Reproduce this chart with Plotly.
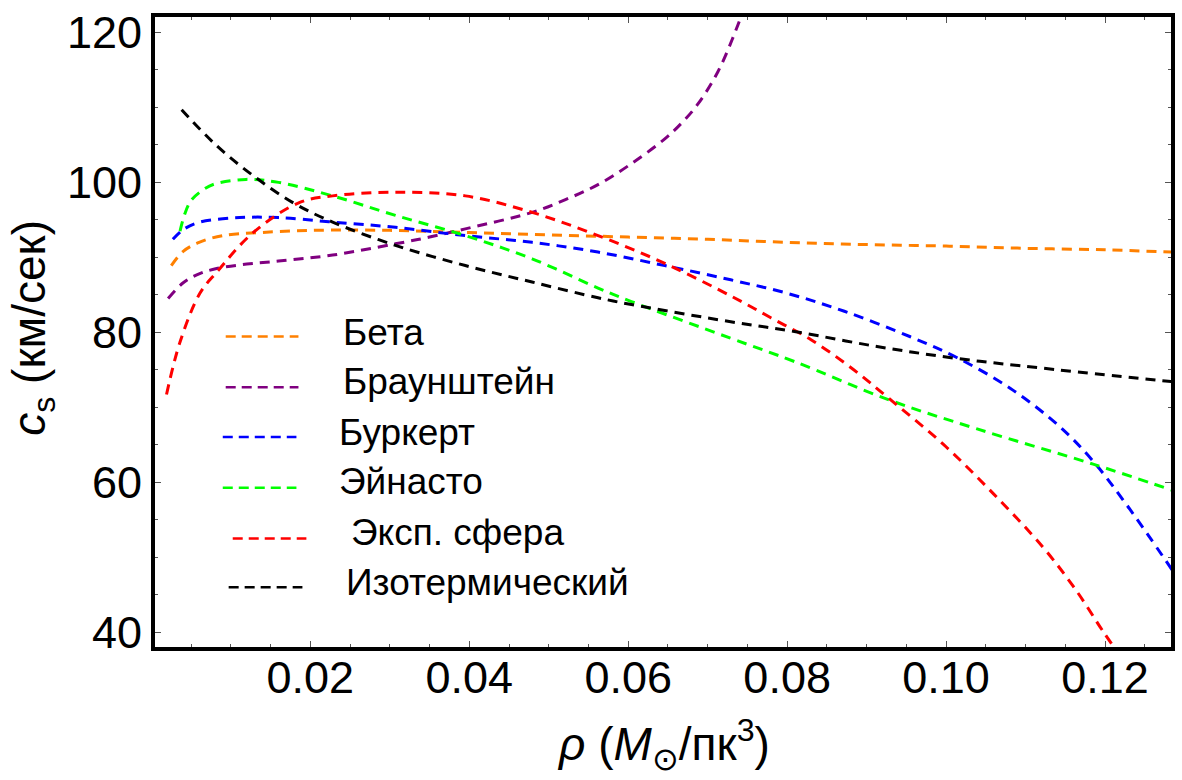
import plotly.graph_objects as go

# --- sound speed c_s (km/s) versus density rho (M_sun / pc^3) for six halo profiles ---

beta_rho = [0.0025, 0.004, 0.006, 0.009, 0.0136, 0.02, 0.03, 0.04, 0.05, 0.06, 0.07, 0.08,
            0.09, 0.10, 0.11, 0.12, 0.1285]
beta_cs = [88.9, 90.8, 92.0, 92.9, 93.3, 93.6, 93.6, 93.3, 93.0, 92.7, 92.4, 92.0,
           91.7, 91.5, 91.2, 91.0, 90.7]

braun_rho = [0.0021, 0.004, 0.006, 0.0082, 0.012, 0.016, 0.0228, 0.0307, 0.035, 0.0395,
             0.0479, 0.0521, 0.0562, 0.0604, 0.0646, 0.0667, 0.0688, 0.0713, 0.0738, 0.076]
braun_cs = [84.5, 86.6, 87.8, 88.5, 89.1, 89.5, 90.3, 91.8, 92.7, 93.8,
            96.0, 97.7, 99.7, 102.5, 105.8, 107.9, 110.5, 114.8, 121.0, 127.5]

burk_rho = [0.0027, 0.004, 0.0061, 0.0111, 0.016, 0.0228, 0.0307, 0.0395, 0.0479, 0.0562,
            0.0646, 0.0729, 0.08, 0.0872, 0.0955, 0.1014, 0.1081, 0.1143, 0.1185, 0.1227, 0.1285]
burk_cs = [92.4, 93.7, 94.7, 95.3, 95.3, 94.7, 94.0, 92.9, 92.0, 90.7,
           88.9, 87.0, 85.2, 82.8, 79.4, 76.6, 72.5, 67.4, 62.8, 57.0, 48.2]

einasto_rho = [0.0036, 0.0042, 0.005, 0.0065, 0.008, 0.0119, 0.016, 0.0228, 0.0307, 0.0395,
               0.0479, 0.0562, 0.0604, 0.0729, 0.0809, 0.093, 0.1039, 0.1185, 0.1285]
einasto_cs = [93.5, 95.8, 97.6, 99.0, 99.8, 100.4, 100.0, 98.2, 95.6, 92.9,
              89.8, 85.9, 84.1, 79.2, 76.1, 70.9, 67.1, 62.4, 58.9]

exp_rho = [0.0019, 0.0036, 0.0061, 0.0082, 0.0128, 0.0186, 0.0228, 0.0307, 0.0395, 0.0479,
           0.0562, 0.0646, 0.073, 0.078, 0.083, 0.088, 0.093, 0.0997, 0.106, 0.1122,
           0.1164, 0.1198, 0.1215]
exp_cs = [71.7, 78.7, 85.2, 88.0, 93.3, 97.3, 98.2, 98.7, 98.2, 96.0,
          92.9, 89.2, 84.8, 81.9, 79.0, 75.3, 71.0, 65.0, 58.4, 51.3,
          45.5, 40.0, 37.4]

iso_rho = [0.0038, 0.0082, 0.0128, 0.0178, 0.0228, 0.0307, 0.0395, 0.0479, 0.0562, 0.0604,
           0.0729, 0.0809, 0.0913, 0.1014, 0.1122, 0.1285]
iso_cs = [109.7, 104.9, 100.9, 97.3, 94.7, 91.6, 88.9, 86.7, 84.6, 83.7,
          81.4, 80.1, 78.1, 76.5, 75.2, 73.4]

names = ["Бета", "Браунштейн", "Буркерт", "Эйнасто", "Эксп. сфера", "Изотермический"]
colors = ["#FF8000", "#800080", "#0000FF", "#00FF00", "#FF0000", "#000000"]
series = [(beta_rho, beta_cs), (braun_rho, braun_cs), (burk_rho, burk_cs),
          (einasto_rho, einasto_cs), (exp_rho, exp_cs), (iso_rho, iso_cs)]

x_ticks = [0.02, 0.04, 0.06, 0.08, 0.10, 0.12]
x_tick_text = ["0.02", "0.04", "0.06", "0.08", "0.10", "0.12"]
y_ticks = [40, 60, 80, 100, 120]

FONT = "Liberation Sans, Arial, sans-serif"

fig = go.Figure()
for name, color, (xs, ys) in zip(names, colors, series):
    fig.add_trace(go.Scatter(
        x=xs, y=ys, mode="lines", name=name, showlegend=False,
        line=dict(color=color, width=3, dash="10px,7px", shape="spline", smoothing=1.0),
    ))

# hand-placed key inside the plot area (paper coordinates)
key_rows = [  # line x0, line x1, line y, text x, text y
    (0.0696, 0.1412, 0.4929, 0.1833, 0.4992),
    (0.0696, 0.1412, 0.4123, 0.1833, 0.4218),
    (0.0667, 0.1392, 0.3333, 0.1794, 0.3397),
    (0.0667, 0.1392, 0.2528, 0.1794, 0.2622),
    (0.0765, 0.1490, 0.1722, 0.1912, 0.1817),
    (0.0725, 0.1451, 0.0948, 0.1863, 0.1027),
]
shapes = []
annotations = []
for name, color, (lx0, lx1, ly, tx, ty) in zip(names, colors, key_rows):
    shapes.append(dict(type="line", xref="paper", yref="paper", x0=lx0, x1=lx1, y0=ly, y1=ly,
                       line=dict(color=color, width=2.5, dash="10px,6px")))
    annotations.append(dict(xref="paper", yref="paper", x=tx, y=ty, text=name,
                            showarrow=False, xanchor="left", yanchor="middle",
                            font=dict(family=FONT, size=37, color="black")))

# axis titles
annotations.append(dict(xref="paper", yref="paper", x=0.5, y=-0.155, xanchor="center",
                        yanchor="middle", showarrow=False,
                        text="<i>ρ</i> (<i>M</i><sub>⊙</sub>/пк<sup>3</sup>)",
                        font=dict(family=FONT, size=46, color="black")))
annotations.append(dict(xref="paper", yref="paper", x=-0.1205, y=0.506, xanchor="center",
                        yanchor="middle", showarrow=False, textangle=-90,
                        text="<i>c</i><sub>s</sub> (км/сек)",
                        font=dict(family=FONT, size=46, color="black")))

axis_common = dict(
    showline=True, linewidth=4, linecolor="black", mirror="allticks",
    ticks="inside", ticklen=6, tickwidth=1, tickcolor="#555",
    showgrid=False, zeroline=False,
    tickfont=dict(family=FONT, size=45, color="black"),
)

fig.update_layout(
    width=1182, height=780,
    margin=dict(l=155, r=7, t=14, b=133),
    paper_bgcolor="white", plot_bgcolor="white",
    xaxis=dict(range=[0.00045, 0.1283], tickvals=x_ticks, ticktext=x_tick_text,
               ticklabelstandoff=-12,
               minor=dict(ticks="inside", ticklen=3, tickwidth=1, tickcolor="#555", dtick=0.005,
                          tick0=0, showgrid=False),
               **axis_common),
    yaxis=dict(range=[38.0, 122.07], tickvals=y_ticks,
               minor=dict(ticks="inside", ticklen=3, tickwidth=1, tickcolor="#555", dtick=5,
                          tick0=0, showgrid=False),
               **axis_common),
    shapes=shapes,
    annotations=annotations,
    showlegend=False,
)

fig.write_html("out.html")
